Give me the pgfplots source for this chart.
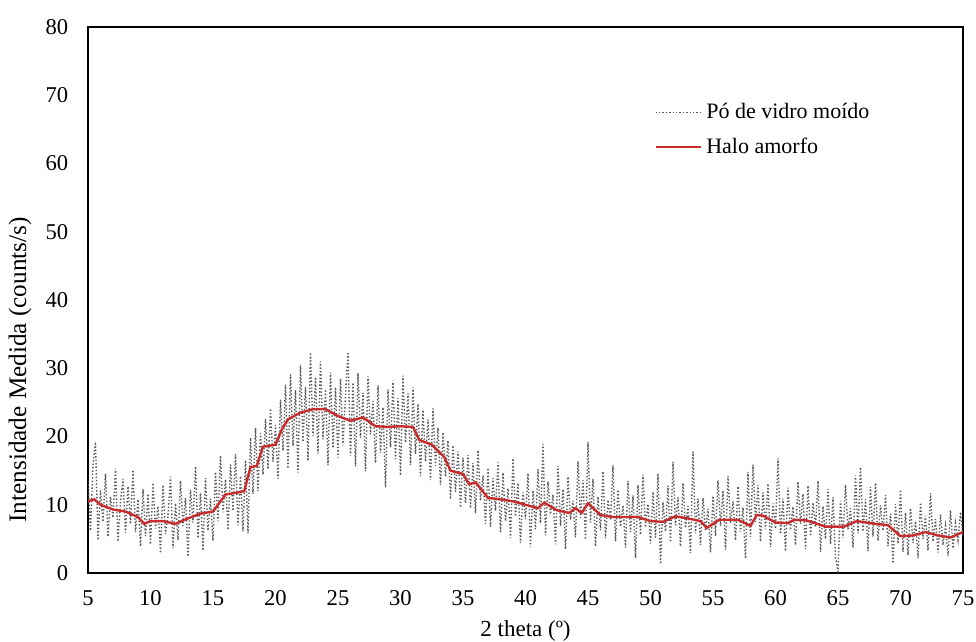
\documentclass[border=0pt]{standalone}
\usepackage{fontspec}
\setmainfont{Liberation Serif}
\usepackage{pgfplots}
\pgfplotsset{compat=1.18}
\definecolor{halo}{RGB}{200,45,45}
\definecolor{noise}{RGB}{90,90,90}
\begin{document}
\fontsize{11}{13}\selectfont
\begin{tikzpicture}
\useasboundingbox (-44pt,-34.5pt) rectangle (444pt,286.5pt);
\begin{axis}[
  scale only axis, width=437.5pt, height=273pt,
  xmin=5, xmax=75, ymin=0, ymax=80,
  xtick={5,10,...,75}, ytick={0,10,...,80},
  major tick length=0pt,
  axis line style={line width=1pt, black},
  /pgf/number format/assume math mode=true,
  tick label style={font=\fontsize{11.3}{13}\selectfont},
  xticklabel style={yshift=-5pt},
  yticklabel style={xshift=-6pt},
  xlabel={2 theta (º)}, ylabel={Intensidade Medida (counts/s)},
  xlabel style={font=\fontsize{11.5}{13}\selectfont, at={(rel axis cs:0.5,0)}, anchor=center, yshift=-29pt},
  ylabel style={font=\fontsize{12.6}{14}\selectfont, at={(rel axis cs:0,0.372)}, anchor=center, yshift=34pt},
  legend cell align=left,
  legend style={at={(rel axis cs:0.64,0.876)}, anchor=north west, draw=none, fill=none,
     font=\fontsize{11}{13}\selectfont, row sep=4pt,
     /tikz/every even column/.append style={column sep=2pt}},
  legend image code/.code={\draw[#1] (0cm,0cm) -- (0.8cm,0cm);},
]
\addplot[noise, line width=0.7pt, densely dotted] coordinates {
(5.0,13.5)(5.2,6.2)(5.4,15.8)(5.6,19.2)(5.8,4.8)(6.0,12.1)(6.2,7.5)(6.4,14.6)(6.6,5.3)(6.8,11.2)
(7.0,8.1)(7.2,15.3)(7.4,4.6)(7.6,10.4)(7.8,13.8)(8.0,5.9)(8.2,12.7)(8.4,7.2)(8.6,15.1)(8.8,6.0)
(9.0,10.8)(9.2,3.9)(9.4,12.3)(9.6,5.4)(9.8,11.6)(10.0,4.2)
(10.2,13.2)(10.4,6.5)(10.6,9.8)(10.8,2.9)(11.0,12.9)(11.2,5.7)(11.4,8.3)(11.6,14.1)(11.8,3.6)(12.0,10.2)
(12.2,4.8)(12.4,13.5)(12.6,6.9)(12.8,11.0)(13.0,2.4)(13.2,12.2)(13.4,7.4)(13.6,15.6)(13.8,5.1)(14.0,11.7)
(14.2,3.3)(14.4,13.9)(14.6,6.2)(14.8,10.9)(15.0,4.7)
(15.2,14.8)(15.4,7.6)(15.6,17.2)(15.8,8.9)(16.0,13.7)(16.2,6.3)(16.4,15.9)(16.6,9.1)(16.8,17.4)(17.0,7.0)
(17.2,14.2)(17.4,6.1)(17.6,16.5)(17.8,5.8)(18.0,19.8)(18.2,11.6)(18.4,21.3)(18.6,12.0)(18.8,20.5)(19.0,14.4)
(19.2,22.6)(19.4,15.2)(19.6,24.1)(19.8,16.3)(20.0,21.7)
(20.2,13.8)(20.4,25.4)(20.6,17.9)(20.8,27.6)(21.0,15.3)(21.2,29.1)(21.4,18.6)(21.6,26.8)(21.8,14.7)(22.0,30.5)
(22.2,19.2)(22.4,27.3)(22.6,16.4)(22.8,32.3)(23.0,20.1)(23.2,28.7)(23.4,17.5)(23.6,31.0)(23.8,19.6)(24.0,26.9)
(24.2,15.8)(24.4,29.4)(24.6,18.3)(24.8,27.2)(25.0,16.9)
(25.2,28.5)(25.4,18.7)(25.6,26.1)(25.8,32.4)(26.0,17.2)(26.2,27.9)(26.4,15.6)(26.6,29.3)(26.8,19.8)(27.0,26.4)
(27.2,14.9)(27.4,28.8)(27.6,20.3)(27.8,25.2)(28.0,16.1)(28.2,27.5)(28.4,17.6)(28.6,24.3)(28.8,12.5)(29.0,26.9)
(29.2,18.4)(29.4,28.2)(29.6,16.7)(29.8,25.6)(30.0,14.3)
(30.2,28.9)(30.4,19.1)(30.6,26.3)(30.8,15.8)(31.0,27.2)(31.2,17.4)(31.4,24.8)(31.6,14.2)(31.8,23.9)(32.0,16.3)
(32.2,22.5)(32.4,13.6)(32.6,24.1)(32.8,15.7)(33.0,21.3)(33.2,12.9)(33.4,20.6)(33.6,14.1)(33.8,19.4)(34.0,10.8)
(34.2,18.7)(34.4,11.9)(34.6,17.8)(34.8,9.6)(35.0,16.9)
(35.2,10.2)(35.4,17.3)(35.6,9.5)(35.8,16.1)(36.0,8.7)(36.2,18.0)(36.4,10.6)(36.6,14.3)(36.8,7.2)(37.0,15.4)
(37.2,6.8)(37.4,13.9)(37.6,9.1)(37.8,16.2)(38.0,5.9)(38.2,14.7)(38.4,7.6)(38.6,12.4)(38.8,5.1)(39.0,16.8)
(39.2,8.3)(39.4,13.2)(39.6,4.4)(39.8,11.8)(40.0,7.9)
(40.2,14.6)(40.4,3.8)(40.6,12.1)(40.8,6.4)(41.0,15.2)(41.2,7.3)(41.4,18.9)(41.6,5.5)(41.8,13.4)(42.0,8.6)
(42.2,11.5)(42.4,4.2)(42.6,15.7)(42.8,6.9)(43.0,12.3)(43.2,3.5)(43.4,14.1)(43.6,7.8)(43.8,10.6)(44.0,5.2)
(44.2,16.4)(44.4,8.1)(44.6,13.6)(44.8,4.9)(45.0,19.2)
(45.2,7.4)(45.4,13.8)(45.6,3.9)(45.8,11.2)(46.0,6.3)(46.2,14.9)(46.4,5.1)(46.6,10.7)(46.8,7.7)(47.0,15.8)
(47.2,4.6)(47.4,12.2)(47.6,6.8)(47.8,9.9)(48.0,3.7)(48.2,13.5)(48.4,6.0)(48.6,11.4)(48.8,2.2)(49.0,12.9)
(49.2,5.6)(49.4,14.4)(49.6,6.7)(49.8,10.1)(50.0,4.3)
(50.2,11.9)(50.4,5.2)(50.6,14.6)(50.8,1.3)(51.0,10.4)(51.2,6.1)(51.4,12.8)(51.6,4.5)(51.8,16.3)(52.0,7.0)
(52.2,11.1)(52.4,3.9)(52.6,13.2)(52.8,6.6)(53.0,9.8)(53.2,2.9)(53.4,17.8)(53.6,5.8)(53.8,10.9)(54.0,4.1)
(54.2,11.0)(54.4,6.2)(54.6,9.4)(54.8,3.0)(55.0,11.3)
(55.2,5.4)(55.4,13.6)(55.6,6.9)(55.8,12.1)(56.0,3.4)(56.2,14.2)(56.4,7.3)(56.6,10.5)(56.8,4.8)(57.0,12.7)
(57.2,6.0)(57.4,9.6)(57.6,2.1)(57.8,14.8)(58.0,5.3)(58.2,15.9)(58.4,7.5)(58.6,12.9)(58.8,4.6)(59.0,11.8)
(59.2,6.4)(59.4,13.1)(59.6,3.8)(59.8,10.2)(60.0,6.5)
(60.2,16.8)(60.4,5.7)(60.6,10.9)(60.8,3.2)(61.0,12.5)(61.2,6.3)(61.4,9.7)(61.6,4.1)(61.8,13.4)(62.0,7.2)
(62.2,11.6)(62.4,3.5)(62.6,12.8)(62.8,5.4)(63.0,10.3)(63.2,6.7)(63.4,13.5)(63.6,3.1)(63.8,9.8)(64.0,5.0)
(64.2,12.3)(64.4,4.2)(64.6,11.1)(64.8,2.3)(65.0,0.2)
(65.2,10.6)(65.4,5.1)(65.6,12.9)(65.8,6.4)(66.0,9.5)(66.2,3.7)(66.4,14.3)(66.6,5.8)(66.8,15.5)(67.0,6.1)
(67.2,10.8)(67.4,3.2)(67.6,12.6)(67.8,5.3)(68.0,13.2)(68.2,4.7)(68.4,9.9)(68.6,6.2)(68.8,11.4)(69.0,3.9)
(69.2,8.7)(69.4,1.4)(69.6,10.1)(69.8,4.3)(70.0,12.2)
(70.2,3.1)(70.4,8.8)(70.6,2.6)(70.8,9.5)(71.0,4.4)(71.2,7.6)(71.4,2.2)(71.6,10.3)(71.8,5.0)(72.0,8.4)
(72.2,3.3)(72.4,11.7)(72.6,4.6)(72.8,7.9)(73.0,3.0)(73.2,8.6)(73.4,4.1)(73.6,6.9)(73.8,2.5)(74.0,9.2)
(74.2,3.6)(74.4,7.3)(74.6,4.8)(74.8,8.9)(75.0,5.4)
};
\addlegendentry{Pó de vidro moído}
\addplot[halo, line width=1.2pt] coordinates {
(5,10.5)(5.5,10.8)(6,10)(7,9.3)(8,9)(9,8.2)(9.5,7.2)(10,7.6)(11,7.6)(12,7.2)(13,8)(14,8.7)(15,9)
(16,11.5)(17,11.8)(17.5,12)(18,15.5)(18.5,15.7)(19,18.5)(20,18.8)(20.5,21)(21,22.5)(22,23.5)(23,24)(24,24)
(25,23)(26,22.3)(27,22.8)(28,21.5)(29,21.4)(30,21.5)(31,21.4)(31.5,19.5)(32.5,18.8)(33.5,17)(34,15)(35,14.5)
(35.5,13)(36,13.3)(37,11)(38,10.8)(39,10.5)(40,10)(41,9.5)(41.5,10.3)(42.5,9.2)(43.5,8.8)(44,9.5)(44.5,8.8)
(45,10.2)(46,8.5)(47,8.2)(48,8.2)(49,8.2)(50,7.6)(51,7.5)(52,8.3)(53,8)(54,7.6)(54.5,6.6)(55.5,7.8)(57,7.8)
(58,6.9)(58.5,8.5)(59,8.4)(60,7.4)(61,7.3)(61.5,7.8)(62.5,7.7)(64,6.8)(65.5,6.8)(66.5,7.6)(68,7.2)(69,7)
(70,5.4)(71,5.5)(72,6)(73,5.5)(74,5.2)(75,6)
};
\addlegendentry{Halo amorfo}
\end{axis}
\end{tikzpicture}
\end{document}
